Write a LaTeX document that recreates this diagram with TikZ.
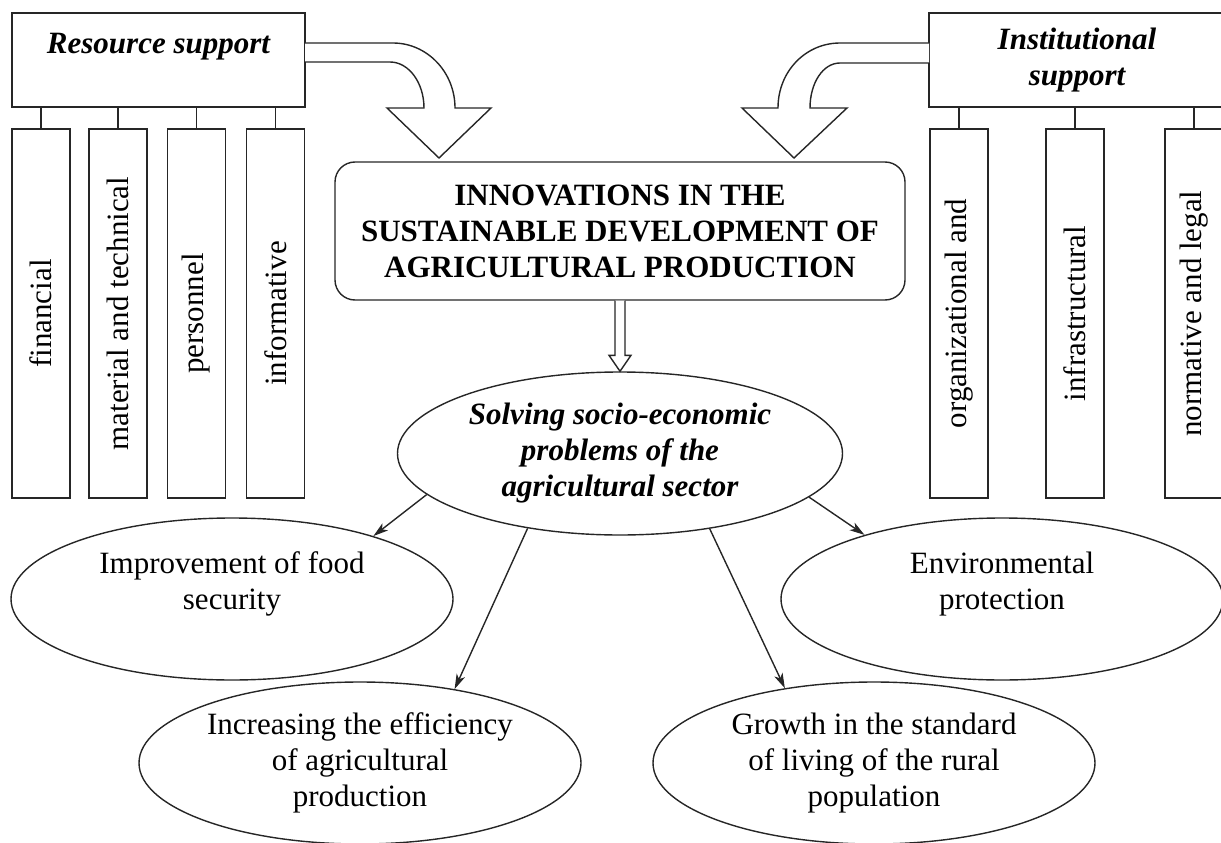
\documentclass[tikz,border=0pt]{standalone}
\usepackage{fontspec}
\setmainfont{Liberation Serif}
\usetikzlibrary{shapes.geometric,calc,arrows.meta}
\begin{document}
\begin{tikzpicture}[x=1pt,y=-1pt,
  every node/.style={inner sep=0pt, font=\fontsize{31}{36}\selectfont},
  lw/.style={line width=1.4pt, draw=black!85},
  headbox/.style={lw, draw, rectangle, minimum width=#1, minimum height=94, align=center,
                  font=\fontsize{31}{36}\selectfont\bfseries\itshape},
  colbox/.style={lw, draw, rectangle, minimum width=58, minimum height=369},
  goal/.style={lw, draw, ellipse, minimum width=442, minimum height=162, align=center},
  tickline/.style={lw},
  link/.style={line width=1.4pt, draw=black!85, -{Stealth[length=15pt,width=9pt,inset=4pt]}},
  blockarrow/.style={lw, fill=white, line join=miter}
]
\useasboundingbox (0,0) rectangle (1221,843);

% resource support and its four kinds
\node[headbox=293] (res) at (158.5,60) {};
\node[font=\fontsize{31}{36}\selectfont\bfseries\itshape] (restitle) at (158.5,47) {Resource support};
\node[colbox] (fin) at (41,313.5) {\rotatebox{90}{financial}};
\node[colbox] (mat) at (118,313.5) {\rotatebox{90}{material and technical}};
\node[colbox] (per) at (196.5,313.5) {\rotatebox{90}{personnel}};
\node[colbox] (inf) at (275.5,313.5) {\rotatebox{90}{informative}};
\foreach \c in {fin,mat,per,inf}
  \draw[tickline] (\c.north) -- (\c.north |- res.south);

% institutional support and its three kinds
\node[headbox=296] (inst) at (1077,60) {Institutional\\support};
\node[colbox] (org) at (959,313.5) {\rotatebox{90}{organizational and}};
\node[colbox] (infr) at (1075,313.5) {\rotatebox{90}{infrastructural}};
\node[colbox] (norm) at (1194,313.5) {\rotatebox{90}{normative and legal}};
\foreach \c in {org,infr,norm}
  \draw[tickline] (\c.north) -- (\c.north |- inst.south);

% central block
\node[lw, draw, rectangle, rounded corners=20pt, minimum width=570, minimum height=138,
      align=center, font=\fontsize{31}{36}\selectfont\bfseries] (inno) at (620,231)
  {INNOVATIONS IN THE\\SUSTAINABLE DEVELOPMENT OF\\AGRICULTURAL PRODUCTION};

% curved block arrows into the central block
\coordinate (tipL) at (439,158);
\coordinate (tipR) at (794,158);
\draw[blockarrow] (305,43) -- (393,43) .. controls (427,43) and (455,72) .. (455,108)
  -- (491,108) -- (tipL) -- (387,108) -- (424,108)
  .. controls (424,83) and (409,62) .. (390,62) -- (305,62);
\draw[blockarrow] (929,43) -- (840,43) .. controls (806,43) and (778,71) .. (778,108)
  -- (742,108) -- (tipR) -- (847,108) -- (810,108)
  .. controls (810,83) and (823,63) .. (840,63) -- (929,63);

% problems to solve
\node[goal, minimum width=445, minimum height=163, font=\fontsize{31}{36}\selectfont\bfseries\itshape]
  (solve) at (620,453.5) {Solving socio-economic\\problems of the\\agricultural sector};

% hollow arrow from the central block
\draw[lw, fill=white] ($(inno.south)+(-5,0)$) -- ($(solve.north)+(-5,-16)$)
  -- ($(solve.north)+(-11,-16)$) -- (solve.north) -- ($(solve.north)+(11,-16)$)
  -- ($(solve.north)+(5,-16)$) -- ($(inno.south)+(5,0)$);

% outcomes
\node[goal] (food) at (232,599) {Improvement of food\\security\\\mbox{}};
\node[goal] (env) at (1002,599) {Environmental\\protection\\\mbox{}};
\node[goal] (eff) at (360,763) {Increasing the efficiency\\of agricultural\\production};
\node[goal] (grow) at (874,763) {Growth in the standard\\of living of the rural\\population};

\draw[link] (solve.192.4) -- (food.24.3);
\draw[link] (solve.219.3) -- (eff.38.9);
\draw[link] (solve.320.4) -- (grow.140.1);
\draw[link] (solve.347.6) -- (env.155.6);
\end{tikzpicture}
\end{document}
